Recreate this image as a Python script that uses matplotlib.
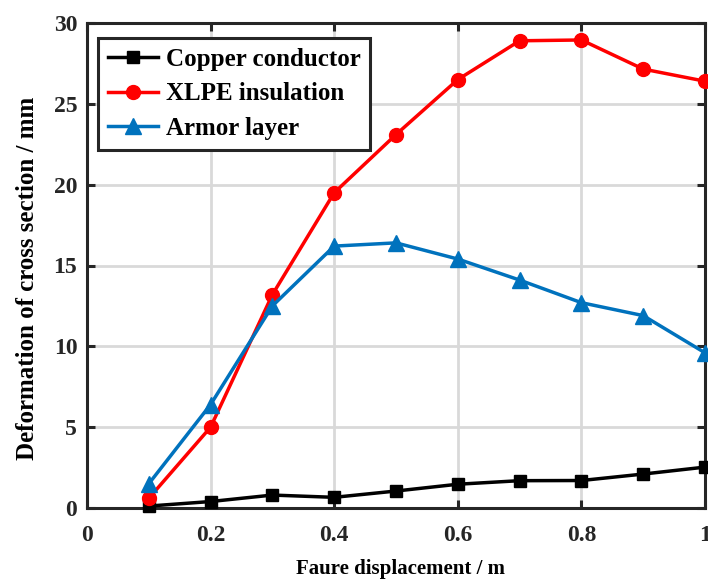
import matplotlib
matplotlib.use("Agg")
import matplotlib.pyplot as plt

plt.rcParams['font.family'] = ['Liberation Serif', 'DejaVu Serif']
plt.rcParams['font.weight'] = 'bold'

displacement = [0.1, 0.2, 0.3, 0.4, 0.5, 0.6, 0.7, 0.8, 0.9, 1.0]
copper = [0.12, 0.4, 0.8, 0.66, 1.05, 1.47, 1.69, 1.7, 2.1, 2.53]
xlpe = [0.6, 5.0, 13.2, 19.5, 23.1, 26.5, 28.9, 28.95, 27.15, 26.4]
armor = [1.5, 6.4, 12.5, 16.2, 16.4, 15.4, 14.1, 12.7, 11.9, 9.6]

xticks = [0, 0.2, 0.4, 0.6, 0.8, 1]
xticklabels = ['0', '0.2', '0.4', '0.6', '0.8', '1']
yticks = [0, 5, 10, 15, 20, 25, 30]

fig = plt.figure(figsize=(7.08, 5.79), dpi=100)
ax = fig.add_axes([87/708, 1 - 508/579, 618/708, 485/579])

ax.plot(displacement, copper, color='black', lw=2.5, marker='s', ms=9,
        label='Copper conductor', clip_on=False, zorder=3)
ax.plot(displacement, xlpe, color='#ff0000', lw=2.5, marker='o', ms=10,
        label='XLPE insulation', clip_on=False, zorder=3)
ax.plot(displacement, armor, color='#0072bd', lw=2.5, marker='^', ms=11,
        label='Armor layer', clip_on=False, zorder=3)

ax.set_xlim(0, 1)
ax.set_ylim(0, 30)
ax.set_xticks(xticks)
ax.set_xticklabels(xticklabels)
ax.set_yticks(yticks)
ax.grid(True, color='#d9d9d9', lw=2)
ax.set_axisbelow(True)
for s in ax.spines.values():
    s.set_linewidth(2.2)
    s.set_color('#262626')
ax.tick_params(direction='in', length=6, width=2.2, color='#262626',
               top=True, right=True, labelsize=17, labelcolor='#262626')
ax.tick_params(axis='x', pad=12)
ax.tick_params(axis='y', pad=7)

ax.set_xlabel('Faure displacement / m', fontsize=15, fontweight='bold')
ax.xaxis.set_label_coords(0.508, -0.105)
ax.set_ylabel('Deformation of cross section / mm', fontsize=18, fontweight='bold')
ax.yaxis.set_label_coords(-0.077, 0.473)

leg = ax.legend(loc='upper left', fontsize=18, frameon=True, fancybox=False,
                edgecolor='#262626', framealpha=1, borderpad=0.4, handlelength=2.0,
                handletextpad=0.3, labelspacing=0.45, borderaxespad=0,
                bbox_to_anchor=(11/618, 1 - 15/485))
leg.get_frame().set_linewidth(2.2)
for t in leg.get_texts():
    t.set_fontweight('bold')

fig.savefig('out.png', dpi=100)
